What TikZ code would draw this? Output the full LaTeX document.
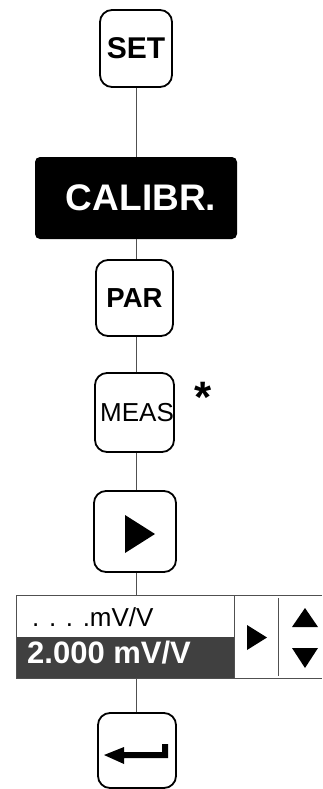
\documentclass[tikz,border=0pt]{standalone}
\usepackage{fontspec}
\setmainfont{Liberation Sans}
\definecolor{dispdark}{RGB}{64,64,64}
\definecolor{conn}{RGB}{80,80,80}
\begin{document}
\begin{tikzpicture}[x=1pt,y=-1pt,
  key/.style={draw=black,line width=1.8pt,rounded corners=12pt,inner sep=0pt,fill=white},
  conline/.style={draw=conn,line width=0.9pt},
  dline/.style={draw=conn,line width=0.9pt},
  glyph/.style={fill=black,draw=none}]
\useasboundingbox (0,0) rectangle (322,789);
\coordinate (ax) at (136.5,0);
% keys
\node[key,minimum width=72pt,minimum height=77pt] (set) at (136,48.5)
  {\fontsize{30}{31}\selectfont\bfseries SET\hspace{3pt}};
\node[fill=black,rounded corners=5pt,inner sep=0pt,minimum width=202pt,minimum height=82pt,text=white] (cal) at (136,198)
  {\fontsize{37}{38}\selectfont\bfseries\hspace{10pt}CALIBR.};
\node[key,minimum width=77pt,minimum height=76pt] (par) at (134.5,298)
  {\fontsize{27.5}{28}\selectfont\bfseries PAR};
\node[key,minimum width=79pt,minimum height=79pt] (meas) at (134.5,412.5)
  {\fontsize{26}{26}\selectfont\hspace{5pt}MEAS};
\node[anchor=base] (star) at (203.5,412) {\fontsize{44}{44}\selectfont\bfseries *};
\node[key,minimum width=82pt,minimum height=81pt] (play) at (135,531.5) {};
\node[key,minimum width=78pt,minimum height=75pt] (enter) at (137,750.5) {};
% display
\coordinate (dtl) at (16,595);
\coordinate (dbr) at (322,678);
\node[fill=dispdark,inner sep=0pt,minimum width=218pt,minimum height=41pt,anchor=south west] (dval) at (16,678) {};
\node[anchor=base west,inner sep=0pt] (dlabel) at (32,626) {\fontsize{26}{26}\selectfont . . . .mV/V};
\node[anchor=base west,inner sep=0pt,text=white] (dnum) at (27,663) {\fontsize{31}{31}\selectfont\bfseries 2.000 mV/V};
\draw[dline] (322,595) -- (dtl) -- (16,678) -- (dbr);
\draw[dline] (234,595) -- (234,678);
\draw[dline] (278,598) -- (278,676);
\coordinate (disptop) at (136.5,595);
\coordinate (dispbot) at (136.5,678);
% glyphs
\fill[glyph] (125,515) -- (155,534) -- (125,553) -- cycle;
\fill[glyph] (247,625) -- (267,637.5) -- (247,650) -- cycle;
\fill[glyph] (292,627) -- (305,608) -- (318,627) -- cycle;
\fill[glyph] (292,648) -- (318,648) -- (305,668) -- cycle;
\fill[glyph] (104,755) -- (124,747) -- (124,752) -- (162,752) -- (162,744) -- (168,744) -- (168,758) -- (124,758) -- (124,764) -- cycle;
% connectors
\draw[conline] (ax |- set.south) -- (ax |- cal.north);
\draw[conline] (ax |- cal.south) -- (ax |- par.north);
\draw[conline] (ax |- par.south) -- (ax |- meas.north);
\draw[conline] (ax |- meas.south) -- (ax |- play.north);
\draw[conline] (ax |- play.south) -- (disptop);
\draw[conline] (dispbot) -- (ax |- enter.north);
\end{tikzpicture}
\end{document}
